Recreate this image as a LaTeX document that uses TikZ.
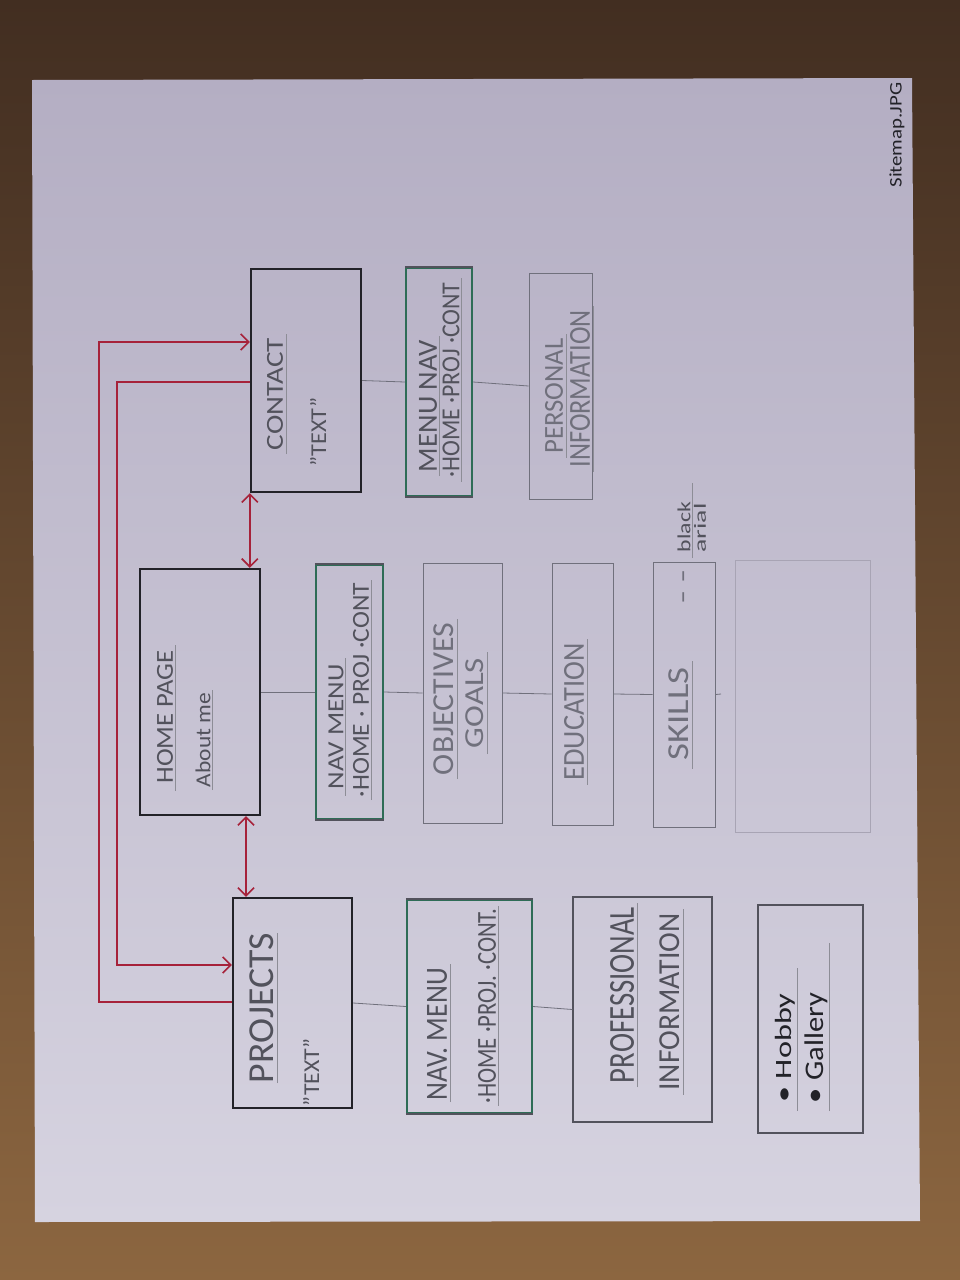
\documentclass[tikz,border=0pt]{standalone}
\usepackage{fontspec}
\setmainfont{Carlito}
\usepackage{graphicx}
\usetikzlibrary{arrows.meta,calc,fit}
\definecolor{paperT}{RGB}{180,174,195}
\definecolor{paperB}{RGB}{214,211,224}
\definecolor{woodT}{RGB}{66,46,33}
\definecolor{woodB}{RGB}{140,102,64}
\definecolor{ink}{RGB}{34,34,40}
\definecolor{pencil}{RGB}{112,112,124}
\definecolor{lead}{RGB}{82,82,92}
\definecolor{boxgreen}{RGB}{46,108,86}
\definecolor{redline}{RGB}{166,34,58}
\definecolor{faintc}{RGB}{168,164,180}
\newcommand\hw[3]{\resizebox*{#1}{#2}{#3}}
\newcommand\uln[4]{\draw[uline] ([xshift=#4,yshift=-#2]#1.south west) -- ([xshift=#4,yshift=#3]#1.south east);}
\newcommand\qt{\symbol{"22}}
\tikzset{
  Rb/.tip={Straight Barb[length=8pt,width=16pt]},
  boxthick/.style={draw=ink,line width=2.4pt,inner sep=0pt},
  boxgr/.style={draw=boxgreen,line width=2.2pt,inner sep=0pt},
  boxpen/.style={draw=pencil,line width=0.9pt,inner sep=0pt},
  boxlead/.style={draw=lead,line width=1.2pt,inner sep=0pt},
  boxfaint/.style={draw=faintc,line width=0.6pt,inner sep=0pt},
  conn/.style={draw=pencil,line width=0.8pt},
  rl/.style={draw=redline,line width=1.6pt},
  uline/.style={draw=pencil!80,line width=0.6pt},
  txt/.style={rotate=90,inner sep=0pt},
}
\begin{document}
\begin{tikzpicture}[x=1pt,y=1pt]
\useasboundingbox (0,0) rectangle (960,-1280);
% background
\shade[top color=woodT,bottom color=woodB] (0,0) rectangle (960,-1280);
\shade[top color=paperT,bottom color=paperB] (32,-80) -- (912,-78) -- (920,-1221) -- (35,-1222) -- cycle;

% boxes
\node[boxthick,fit={(233,-898) (352,-1108)}] (projects) {};
\node[boxthick,fit={(140,-569) (260,-815)}] (home) {};
\node[boxthick,fit={(251,-269) (361,-492)}] (contact) {};
\node[boxgr,fit={(407,-900) (532,-1113)}] (navP) {};
\node[boxgr,fit={(316,-565) (383,-819)}] (navH) {};
\node[boxgr,fit={(406,-268) (472,-496)}] (navC) {};
\foreach \n in {navP,navH,navC}{
  \draw[lead,line width=1.4pt] (\n.north west) -- (\n.north east);
  \draw[lead,line width=1.4pt] (\n.south west) -- (\n.south east);
}
\node[boxpen,fit={(423,-563) (502,-823)}] (obj) {};
\node[boxpen,fit={(552,-563) (613,-825)}] (edu) {};
\node[boxpen,fit={(653,-562) (715,-827)}] (skills) {};
\node[boxpen,fit={(529,-273) (592,-499)}] (pers) {};
\node[boxlead,fit={(573,-897) (712,-1122)}] (prof) {};
\node[boxlead,fit={(758,-905) (863,-1133)}] (hobby) {};
\node[boxfaint,fit={(735,-560) (870,-832)}] (erased) {};

% plain connectors
\draw[conn] (projects.east) -- (navP.west);
\draw[conn] (navP.east) -- (prof.west);
\draw[conn] (home.east) -- (navH.west);
\draw[conn] (navH.east) -- (obj.west);
\draw[conn] (obj.east) -- (edu.west);
\draw[conn] (edu.east) -- (skills.west);
\coordinate (stub) at (721,-694);
\draw[conn] (skills.east) -- (stub);
\draw[conn] (contact.east) -- (navC.west);
\draw[conn] (navC.east) -- (pers.west);

% red connectors
\coordinate (oTop) at (99,-342);
\coordinate (oBot) at (99,-1002);
\coordinate (iTop) at (117,-382);
\coordinate (iBot) at (117,-965);
\draw[rl,-Rb] (projects.west |- oBot) -- (oBot) -- (oTop) -- (contact.west |- oTop);
\draw[rl,-Rb] (contact.west |- iTop) -- (iTop) -- (iBot) -- (projects.west |- iBot);
\draw[rl,Rb-Rb] (contact.south west) -- (contact.south west |- home.north);
\coordinate (hx) at (246,-815);
\draw[rl,Rb-Rb] (home.south -| hx) -- (projects.north -| hx);

% texts
\node[txt,text=lead] (tProj) at (262,-1008) {\hw{150pt}{24pt}{PROJECTS}};
\node[txt,text=lead] (tProjT) at (311,-1072) {\hw{68pt}{16pt}{\qt TEXT\qt}};
\node[txt,text=lead] (tHome) at (165,-717) {\hw{133pt}{16pt}{HOME PAGE}};
\node[txt,text=lead] (tAbout) at (203,-740) {\hw{94pt}{15pt}{About me}};
\node[txt,text=lead] (tNavH1) at (336,-727) {\hw{125pt}{15pt}{NAV MENU}};
\node[txt,text=lead] (tNavH2) at (361,-690) {\hw{214pt}{16pt}{·HOME · PROJ ·CONT}};
\node[txt,text=pencil] (tObj) at (444,-699) {\hw{152pt}{20pt}{OBJECTIVES}};
\node[txt,text=pencil] (tGoals) at (475,-703) {\hw{90pt}{18pt}{GOALS}};
\node[txt,text=pencil] (tEdu) at (574,-712) {\hw{137pt}{20pt}{EDUCATION}};
\node[txt,text=pencil] (tSkills) at (679,-714) {\hw{93pt}{20pt}{SKILLS}};
\node[txt,text=pencil] (tDash) at (687,-587) {\scalebox{1}[0.6]{\fontsize{40}{40}\selectfont - -}};
\node[txt,text=lead] (tBlack) at (684,-527) {\hw{50pt}{13pt}{black}};
\node[txt,text=lead] (tArial) at (700,-528) {\hw{49pt}{12pt}{arial}};
\node[txt,text=lead] (tCont) at (275,-394) {\hw{112pt}{16pt}{CONTACT}};
\node[txt,text=lead] (tContT) at (318,-432) {\hw{69pt}{16pt}{\qt TEXT\qt}};
\node[txt,text=lead] (tNavC1) at (428,-406) {\hw{132pt}{18pt}{MENU NAV}};
\node[txt,text=lead] (tNavC2) at (451,-380) {\hw{195pt}{17pt}{·HOME ·PROJ ·CONT}};
\node[txt,text=pencil] (tPers) at (554,-396) {\hw{115pt}{18pt}{PERSONAL}};
\node[txt,text=pencil] (tInfo1) at (580,-389) {\hw{157pt}{20pt}{INFORMATION}};
\node[txt,text=lead] (tNavP1) at (437,-1034) {\hw{132pt}{20pt}{NAV. MENU}};
\node[txt,text=lead] (tNavP2) at (487,-1006) {\hw{195pt}{18pt}{·HOME ·PROJ. ·CONT.}};
\node[txt,text=lead] (tProf) at (622,-995) {\hw{176pt}{24pt}{PROFESSIONAL}};
\node[txt,text=lead] (tInfo2) at (670,-1002) {\hw{177pt}{20pt}{INFORMATION}};
\node[txt,text=ink] (tHobby) at (785,-1048) {\hw{109pt}{20pt}{• Hobby}};
\node[txt,text=ink] (tGall) at (816,-1048) {\hw{110pt}{23pt}{• Gallery}};
\node[txt,text=ink] (tSite) at (897,-135) {\hw{105pt}{15pt}{Sitemap.JPG}};

% underlines
\uln{tProj}{0pt}{0pt}{3pt}
\uln{tHome}{7pt}{5pt}{2pt}
\uln{tAbout}{3pt}{3pt}{2pt}
\uln{tNavH1}{6pt}{6pt}{2pt}
\uln{tNavH2}{3pt}{3pt}{2pt}
\uln{tObj}{4pt}{4pt}{3pt}
\uln{tGoals}{6pt}{6pt}{3pt}
\uln{tEdu}{4pt}{4pt}{3pt}
\uln{tSkills}{8pt}{6pt}{3pt}
\uln{tBlack}{6pt}{19pt}{2pt}
\uln{tCont}{4pt}{4pt}{3pt}
\uln{tNavC1}{4pt}{4pt}{2pt}
\uln{tNavC2}{4pt}{4pt}{2pt}
\uln{tPers}{4pt}{4pt}{3pt}
\uln{tInfo1}{4pt}{4pt}{3pt}
\uln{tNavP1}{2pt}{4pt}{3pt}
\uln{tNavP2}{2pt}{2pt}{2pt}
\uln{tProf}{4pt}{4pt}{3pt}
\uln{tInfo2}{4pt}{4pt}{3pt}
\uln{tHobby}{8pt}{25pt}{2pt}
\uln{tGall}{8pt}{50pt}{2pt}
\end{tikzpicture}
\end{document}
